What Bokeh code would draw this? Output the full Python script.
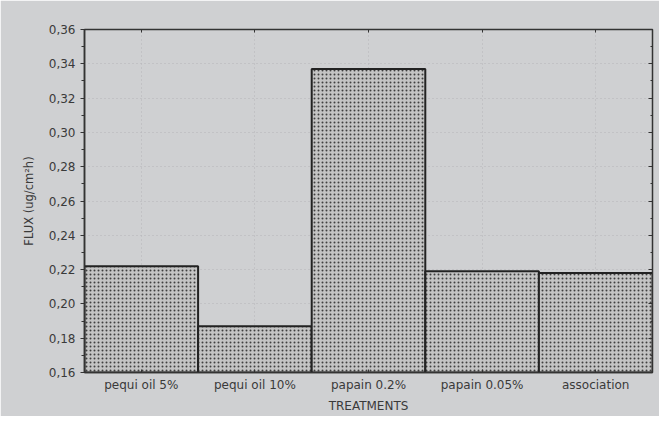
from bokeh.plotting import figure
from bokeh.models import FixedTicker, CategoricalAxis, LinearAxis, FactorRange, Range1d, ColumnDataSource
from bokeh.embed import file_html
from bokeh.resources import INLINE

treatments = ["pequi oil 5%", "pequi oil 10%", "papain 0.2%", "papain 0.05%", "association"]
flux = [0.222, 0.187, 0.337, 0.219, 0.218]
y_ticks = [0.16, 0.18, 0.20, 0.22, 0.24, 0.26, 0.28, 0.30, 0.32, 0.34, 0.36]
y_tick_labels = ["0,16", "0,18", "0,20", "0,22", "0,24", "0,26", "0,28", "0,30", "0,32", "0,34", "0,36"]
y_minor = [0.17, 0.19, 0.21, 0.23, 0.25, 0.27, 0.29, 0.31, 0.33, 0.35]

BG = "#cfd0d2"
FONT = "DejaVu Sans"
TXT = "#3a3a3a"

src = ColumnDataSource(dict(x=treatments, top=flux))

p = figure(width=659, height=416, output_backend="svg", toolbar_location=None,
           x_range=FactorRange(factors=treatments, range_padding=0),
           y_range=Range1d(0.16, 0.36),
           min_border_left=84, min_border_right=7, min_border_top=29, min_border_bottom=44)
p.background_fill_color = BG
p.border_fill_color = BG
p.outline_line_color = "#333333"
p.outline_line_width = 1.5

p.vbar(x="x", top="top", bottom=0.16, width=1.0, source=src,
       fill_color="#c4c4c4", line_color="#222222", line_width=2,
       hatch_pattern="dot", hatch_color="#404040", hatch_scale=4, hatch_weight=1.4)

ya = p.yaxis[0]
ya.ticker = FixedTicker(ticks=y_ticks, minor_ticks=y_minor)
ya.major_label_overrides = {t: l for t, l in zip(y_ticks, y_tick_labels)}
ya.major_tick_in = 0
ya.major_tick_out = 4
ya.minor_tick_in = 0
ya.minor_tick_out = 3
ya.axis_line_color = "#333333"
ya.axis_line_width = 1.5
ya.major_tick_line_color = "#333333"
ya.minor_tick_line_color = "#333333"
ya.major_label_text_font = FONT
ya.major_label_text_font_size = "12px"
ya.major_label_text_color = TXT
ya.major_label_standoff = 5
ya.axis_label = "FLUX (ug/cm\u00b2h)"
ya.axis_label_text_font = FONT
ya.axis_label_text_font_size = "11.5px"
ya.axis_label_text_font_style = "normal"
ya.axis_label_text_color = TXT
ya.axis_label_standoff = 10

xa = p.xaxis[0]
xa.major_tick_in = 3
xa.major_tick_out = 0
xa.axis_line_color = "#333333"
xa.axis_line_width = 1.5
xa.major_tick_line_color = "#333333"
xa.major_label_text_font = FONT
xa.major_label_text_font_size = "12px"
xa.major_label_text_color = TXT
xa.major_label_standoff = 5
xa.axis_label = "TREATMENTS"
xa.axis_label_text_font = FONT
xa.axis_label_text_font_size = "12px"
xa.axis_label_text_font_style = "normal"
xa.axis_label_text_color = TXT
xa.axis_label_standoff = 4

top_ax = CategoricalAxis(major_tick_in=3, major_tick_out=0,
                         major_label_text_color=None,
                         axis_line_color="#333333", major_tick_line_color="#333333",
                         major_label_standoff=0)
p.add_layout(top_ax, "above")
right_ax = LinearAxis(ticker=FixedTicker(ticks=y_ticks, minor_ticks=y_minor),
                      major_tick_in=4, major_tick_out=0, minor_tick_in=2, minor_tick_out=0,
                      major_label_text_color=None,
                      axis_line_color="#333333",
                      major_tick_line_color="#333333", minor_tick_line_color="#333333",
                      major_label_standoff=0)
p.add_layout(right_ax, "right")

p.ygrid.ticker = FixedTicker(ticks=y_ticks)
p.ygrid.grid_line_color = "#b4b5b8"
p.ygrid.grid_line_dash = "1 3"
p.xgrid.grid_line_color = "#b4b5b8"
p.xgrid.grid_line_dash = "1 3"

open("out.html", "w").write(file_html(p, INLINE))
